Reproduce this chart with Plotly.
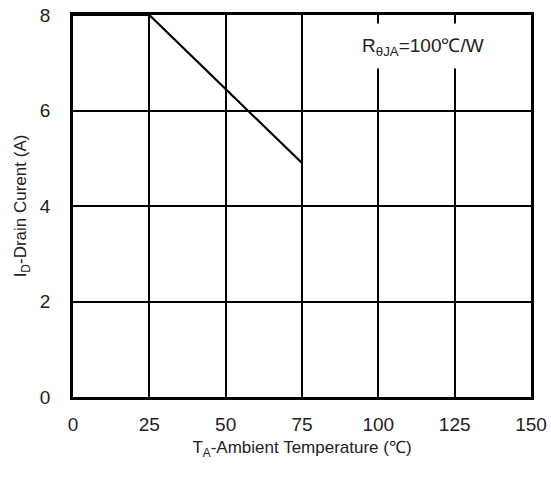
import plotly.graph_objects as go

temp_c = [0, 25, 75]
drain_current_a = [8, 8, 4.9]
x_ticks = [0, 25, 50, 75, 100, 125, 150]
y_ticks = [0, 2, 4, 6, 8]

FONT = "Arial, Liberation Sans, sans-serif"

fig = go.Figure()
fig.add_trace(go.Scatter(x=temp_c, y=drain_current_a, mode="lines",
                         line=dict(color="black", width=2.2), showlegend=False))

# white patch behind the label (covers gridlines as in the reference)
fig.add_shape(type="rect", xref="x", yref="y", x0=87, x1=145, y0=6.88, y1=7.82,
              fillcolor="white", line=dict(width=0), layer="above")
fig.add_annotation(x=114.5, y=7.32, xref="x", yref="y",
                   text="R<sub>θJA</sub>=100℃/W", showarrow=False,
                   font=dict(family=FONT, size=19, color="#222"))

axis_common = dict(showgrid=True, gridcolor="black", gridwidth=2,
                   showline=True, linecolor="black", linewidth=2.5, mirror=True,
                   zeroline=False, ticks="", automargin=False,
                   ticklabeloverflow="allow",
                   tickfont=dict(family=FONT, size=19, color="#222"))

fig.update_xaxes(range=[0, 150], tickvals=x_ticks, ticklabelstandoff=8,
                 title=dict(text="T<sub>A</sub>-Ambient Temperature (℃)",
                            font=dict(family=FONT, size=17, color="#222"), standoff=8),
                 **axis_common)
fig.update_yaxes(range=[0, 8], tickvals=y_ticks, ticklabelstandoff=16,
                 title=dict(text="I<sub>D</sub>-Drain Curent (A)",
                            font=dict(family=FONT, size=17, color="#222"), standoff=9),
                 **axis_common)

fig.update_layout(width=551, height=480, plot_bgcolor="white", paper_bgcolor="white",
                  margin=dict(l=73, r=20, t=15, b=83))

fig.write_html("out.html", config={"displayModeBar": False},
               post_script="document.body.style.margin='0';document.body.style.overflow='hidden';")
